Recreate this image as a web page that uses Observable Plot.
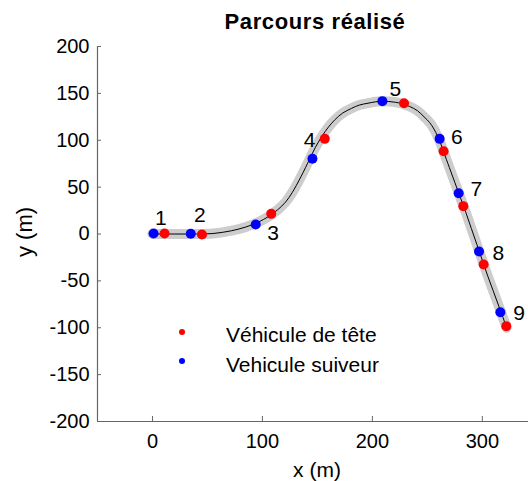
<!DOCTYPE html>
<html>
<head>
<meta charset="utf-8">
<script src="https://cdn.jsdelivr.net/npm/d3@7"></script>
<script src="https://cdn.jsdelivr.net/npm/@observablehq/plot@0.6"></script>
<style>
  html, body { margin: 0; padding: 0; background: #fff; overflow: hidden; }
  #wrap { position: relative; width: 528px; height: 481px; font-family: "Liberation Sans", Arial, sans-serif; }
  #title { position: absolute; left: 102px; width: 426px; top: 11px; text-align: center; font-weight: bold; font-size: 22px; line-height: 22px; letter-spacing: 0.6px; color: #000; }
  #chart { position: absolute; left: 0; top: 36px; }
  .leg { position: absolute; left: 0; top: 0; }
  .leg .dot { position: absolute; width: 6px; height: 6px; border-radius: 50%; }
  .leg .txt { position: absolute; font-size: 21px; line-height: 21px; white-space: nowrap; color: #000; }
</style>
</head>
<body>
<div id="wrap">
  <div id="title">Parcours réalisé</div>
  <div id="chart"></div>
  <div class="leg" id="legend"></div>
</div>
<script>
// Reference track (m)
const trackX = [0, 20, 40, 55, 72, 85, 96, 106, 114, 121, 127, 135, 143, 148, 154, 160, 166, 173, 181, 188, 196, 203, 209, 215, 221, 227, 234, 241, 247, 252, 256, 259, 262, 265, 270, 275, 280, 285, 290, 295, 300, 305, 310, 315, 320, 322];
const trackY = [0, 0, 0, 0.5, 3.5, 7.5, 12.5, 19, 26, 34, 44, 61, 80, 92, 104, 114, 122, 129, 134, 137.5, 139.5, 141, 141.5, 141.3, 140.5, 139, 136, 131.5, 125, 119, 112, 105, 97, 87, 71, 55, 39, 23, 6, -11, -28, -45, -61, -77, -93, -100];

// Lead vehicle (red) snapshots
const leadX = [11, 45, 108, 156.7, 228.8, 264.8, 282.7, 301.2, 321.8];
const leadY = [0.5, -0.5, 21.5, 101.5, 139.5, 88.3, 29.7, -32.5, -98.3];
// Follower vehicle (blue) snapshots
const followX = [1, 34.8, 93.9, 145.5, 209.1, 261.2, 278.5, 297, 316.4];
const followY = [0.5, 0.2, 10.1, 80.2, 141.7, 101.5, 43.5, -18.7, -83.4];

// Snapshot labels
const labelText = ["1", "2", "3", "4", "5", "6", "7", "8", "9"];
const labelX = [7.7, 43, 109.7, 143, 220.9, 276.8, 294.5, 314.5, 333.5];
const labelY = [17, 19.7, 1, 100.3, 154.9, 103.3, 47.7, -20.3, -84.6];

const xTicks = [0, 100, 200, 300];
const yTicks = [-200, -150, -100, -50, 0, 50, 100, 150, 200];
const xDomain = [-50, 342];
const yDomain = [-200, 200];

const legendNames = ["Véhicule de tête", "Vehicule suiveur"];
const legendColors = ["#ff0000", "#0000ff"];

const track = trackX.map((x, i) => ({x, y: trackY[i]}));
const lead = leadX.map((x, i) => ({x, y: leadY[i]}));
const follow = followX.map((x, i) => ({x, y: followY[i]}));
const labels = labelText.map((t, i) => ({t, x: labelX[i], y: labelY[i]}));

const axisColor = "#666";
const fmt = d => String(d);

const chart = Plot.plot({
  width: 528,
  height: 445,
  marginTop: 10,
  marginBottom: 60,
  marginLeft: 97,
  marginRight: 0,
  style: { fontFamily: "'Liberation Sans', Arial, sans-serif", background: "transparent", color: "#000" },
  x: { domain: xDomain },
  y: { domain: yDomain },
  marks: [
    Plot.ruleX([xDomain[0]], { stroke: axisColor, strokeWidth: 1.2 }),
    Plot.ruleY([yDomain[0]], { stroke: axisColor, strokeWidth: 1.2 }),
    Plot.axisX(xTicks, { tickSize: -5, tickPadding: 17, fontSize: 20, stroke: axisColor, fill: "#000", label: null, tickFormat: fmt }),
    Plot.axisY(yTicks, { tickSize: -4, tickPadding: 12, fontSize: 20, stroke: axisColor, fill: "#000", label: null, tickFormat: fmt }),
    Plot.text(["x (m)"], { frameAnchor: "bottom", textAnchor: "middle", dx: 4, dy: 49, fontSize: 21, fill: "#000", lineAnchor: "middle" }),
    Plot.text(["y (m)"], { frameAnchor: "left", textAnchor: "middle", dx: -73, dy: -2, rotate: -90, fontSize: 22, fill: "#000", lineAnchor: "middle" }),
    Plot.line(track, { x: "x", y: "y", stroke: "#cdcdcd", strokeWidth: 10, strokeLinecap: "round", curve: "catmull-rom" }),
    Plot.line(track, { x: "x", y: "y", stroke: "#000", strokeWidth: 1, curve: "catmull-rom" }),
    Plot.dot(follow, { x: "x", y: "y", r: 5, fill: "#0000ff", stroke: "none" }),
    Plot.dot(lead, { x: "x", y: "y", r: 5, fill: "#ff0000", stroke: "none" }),
    Plot.text(labels, { x: "x", y: "y", text: "t", fontSize: 21, fill: "#000", lineAnchor: "middle" })
  ]
});
document.getElementById("chart").appendChild(chart);

// Legend
const leg = document.getElementById("legend");
const legTop = [331.7, 361];
legendNames.forEach((name, i) => {
  const d = document.createElement("div");
  d.className = "dot";
  d.style.background = legendColors[i];
  d.style.left = (181.7 - 3) + "px";
  d.style.top = (legTop[i] - 3) + "px";
  leg.appendChild(d);
  const t = document.createElement("div");
  t.className = "txt";
  t.textContent = name;
  t.style.left = "226px";
  t.style.top = (legTop[i] - 7.5) + "px";
  leg.appendChild(t);
});
</script>
</body>
</html>
